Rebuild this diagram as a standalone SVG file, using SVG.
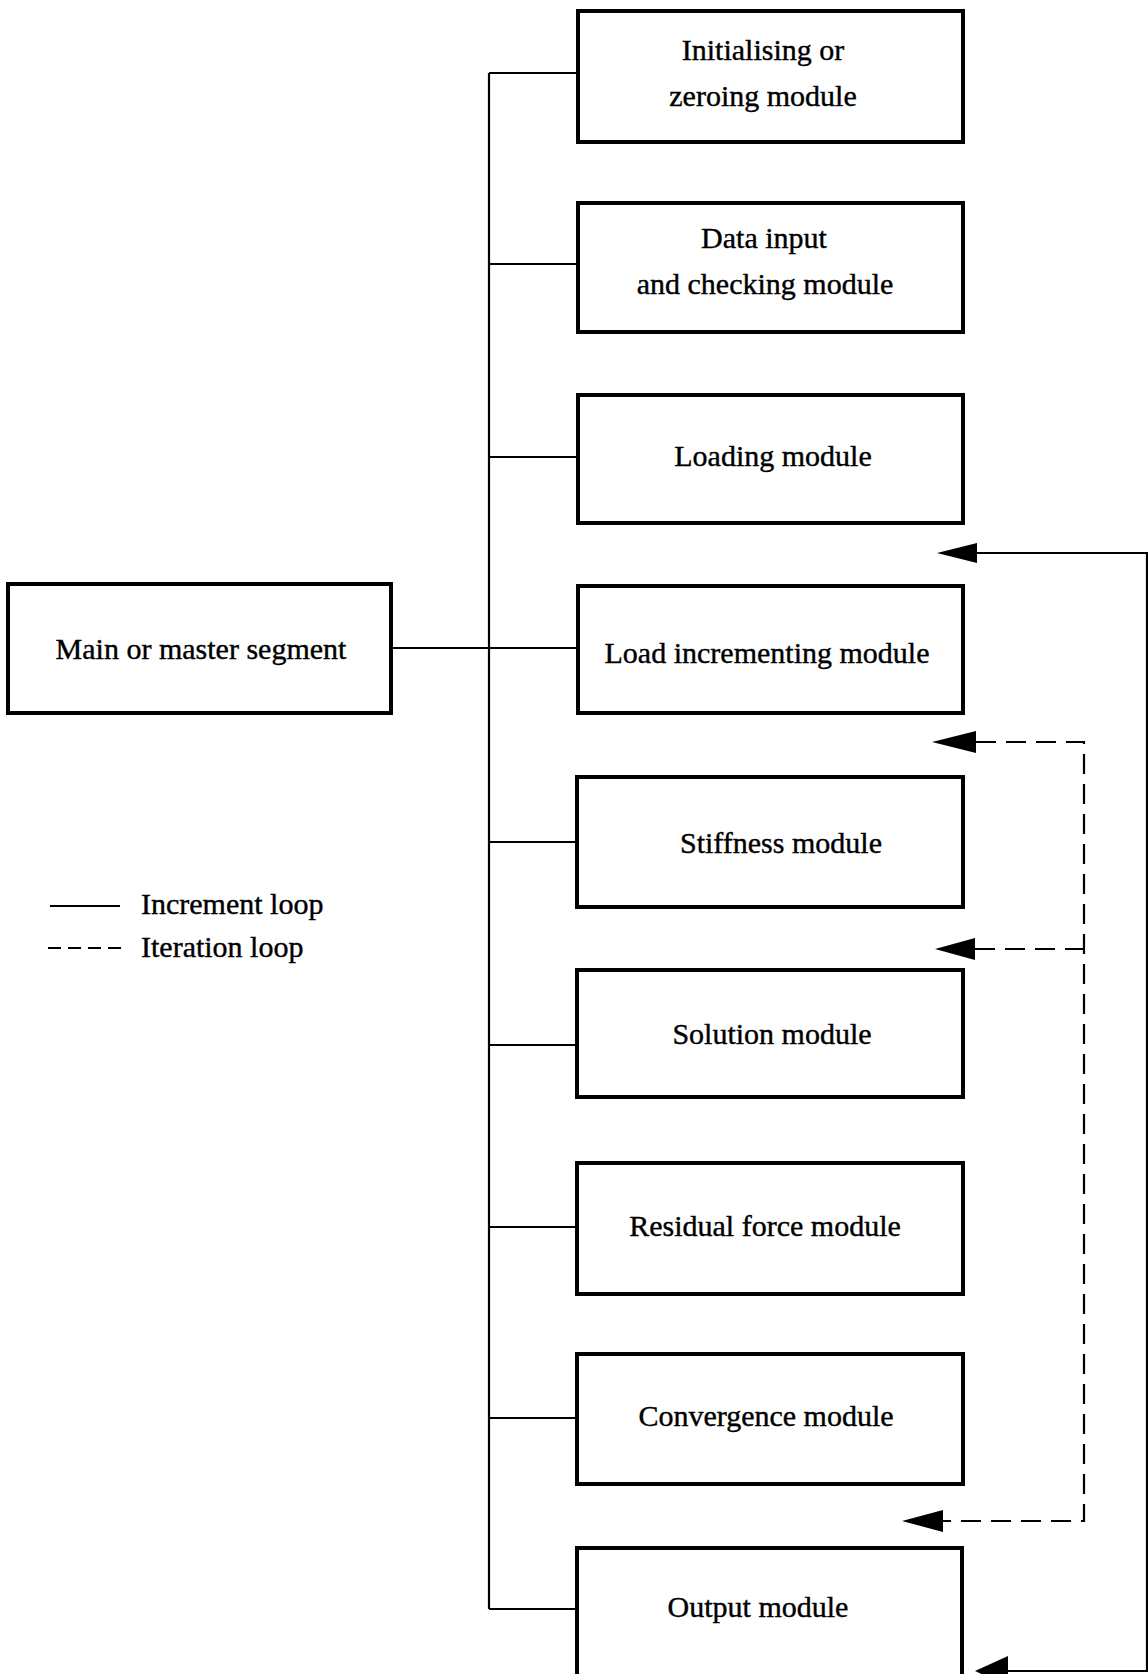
<svg xmlns="http://www.w3.org/2000/svg" width="1148" height="1674" viewBox="0 0 1148 1674">
<style>
.box{fill:#fff;stroke:#000;stroke-width:4}
.t{font-family:"Liberation Serif","Times New Roman",serif;font-size:30px;fill:#000;stroke:#000;stroke-width:0.4}
.c{text-anchor:middle}
.ln{fill:none;stroke:#000;stroke-width:2.2}
.dash{fill:none;stroke:#000;stroke-width:2.2;stroke-dasharray:20 10}
.ah{fill:#000;stroke:none}
</style>
<rect width="1148" height="1674" fill="#fff"/>
<g id="connectors">
<path class="ln" d="M489 73 V1609"/>
<path class="ln" d="M489 73 H578 M489 264 H578 M489 457 H578 M391 648 H578 M489 842 H578 M489 1045 H578 M489 1227 H578 M489 1418 H578 M489 1609 H578"/>
<path class="ln" d="M976 553 H1147 V1671 H1006"/>
<polygon class="ah" points="937,553 977,543 977,563"/>
<polygon class="ah" points="975,1671 1008,1656 1008,1686"/>
<path class="dash" d="M976 742 H1084 V1521 H943"/>
<path class="dash" d="M975 949 H1084"/>
<polygon class="ah" points="932,742 976,731 976,753"/>
<polygon class="ah" points="935,949 975,938 975,960"/>
<polygon class="ah" points="902,1521 943,1510 943,1532"/>
</g>
<g id="main">
<rect class="box" x="8" y="584" width="383" height="129"/>
<text class="t c" x="201" y="659">Main or master segment</text>
</g>
<g id="initialising">
<rect class="box" x="578" y="11" width="385" height="131"/>
<text class="t c" x="763" y="60">Initialising or</text>
<text class="t c" x="763" y="106">zeroing module</text>
</g>
<g id="datainput">
<rect class="box" x="578" y="203" width="385" height="129"/>
<text class="t c" x="764" y="248">Data input</text>
<text class="t c" x="765" y="294">and checking module</text>
</g>
<g id="loading">
<rect class="box" x="578" y="395" width="385" height="128"/>
<text class="t c" x="773" y="466">Loading module</text>
</g>
<g id="loadincrementing">
<rect class="box" x="578" y="586" width="385" height="127"/>
<text class="t c" x="767" y="663">Load incrementing module</text>
</g>
<g id="stiffness">
<rect class="box" x="577" y="777" width="386" height="130"/>
<text class="t c" x="781" y="853">Stiffness module</text>
</g>
<g id="solution">
<rect class="box" x="577" y="970" width="386" height="127"/>
<text class="t c" x="772" y="1044">Solution module</text>
</g>
<g id="residual">
<rect class="box" x="577" y="1163" width="386" height="131"/>
<text class="t c" x="765" y="1236">Residual force module</text>
</g>
<g id="convergence">
<rect class="box" x="577" y="1354" width="386" height="130"/>
<text class="t c" x="766" y="1426">Convergence module</text>
</g>
<g id="output">
<rect class="box" x="577" y="1548" width="385" height="135"/>
<text class="t c" x="758" y="1617">Output module</text>
</g>
<g id="legend">
<path class="ln" d="M50 906 H120"/>
<path class="ln" d="M48 948 H126" stroke-dasharray="13 7"/>
<text class="t" x="141" y="914">Increment loop</text>
<text class="t" x="141" y="957">Iteration loop</text>
</g>
</svg>
